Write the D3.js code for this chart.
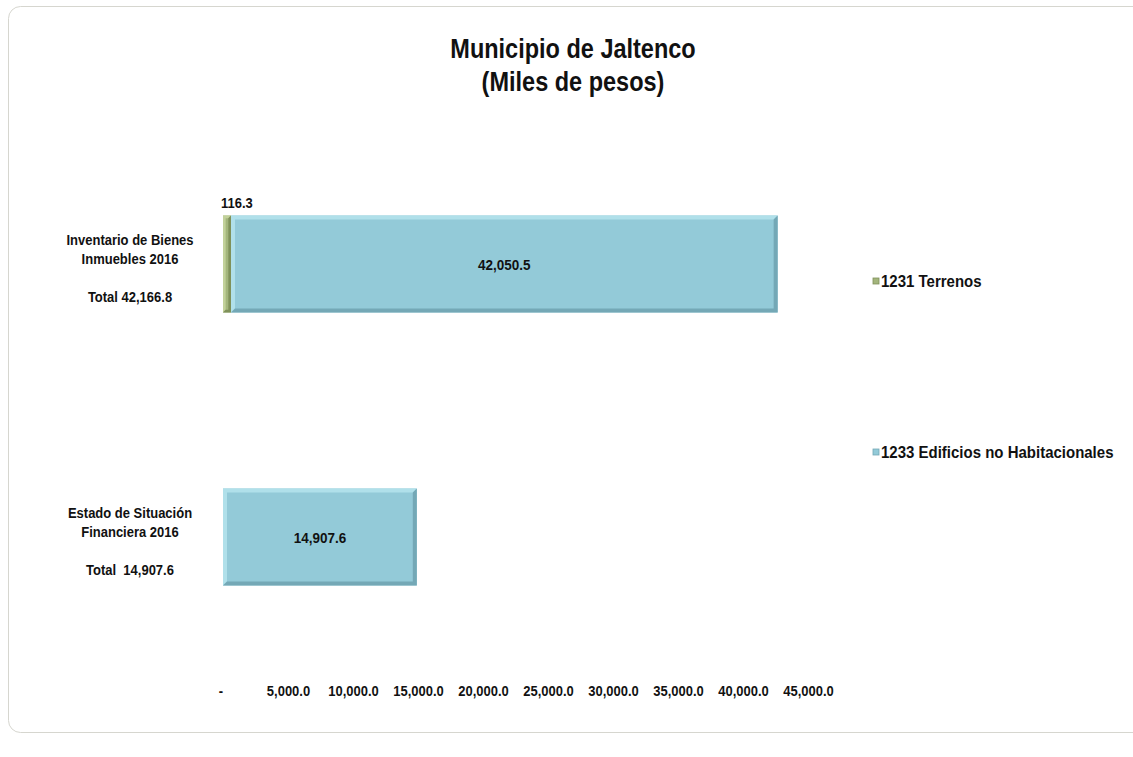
<!DOCTYPE html>
<html>
<head>
<meta charset="utf-8">
<script src="https://cdn.jsdelivr.net/npm/d3@7"></script>
<style>
  body { margin: 0; background: #ffffff; }
  svg { display: block; font-family: "Liberation Sans", Arial, sans-serif; font-weight: bold; }
</style>
</head>
<body>
<svg id="chart"></svg>
<script>
// DATA
const categories = ['Inventario', 'Estado'];
const categoryLines = [
    ['Inventario de Bienes', 'Inmuebles 2016', '', 'Total 42,166.8'],
    ['Estado de Situación', 'Financiera 2016', '', 'Total  14,907.6']
];
const seriesNames = ['1231 Terrenos', '1233 Edificios no Habitacionales'];
const terrenos = [116.3, 0];
const edificios = [42050.5, 14907.6];
const xTicks = [0, 5000, 10000, 15000, 20000, 25000, 30000, 35000, 40000, 45000];

const width = 1133;
const height = 757;
const colors = {
    '1231 Terrenos': { fill: '#a3b57c', light: '#c2d19a', dark: '#7f915a' },
    '1233 Edificios no Habitacionales': { fill: '#93cad8', light: '#b0e0ea', dark: '#74a8b6' }
};
const barH = 97;
const minSeg = 8; // tiny segments still get drawn like excel does
const stretch = 1.15; // text in the source looks a bit tall

const svg = d3.select('#chart')
    .attr('width', width)
    .attr('height', height);

function tallText(sel, x, y, size) {
    return sel.append('text')
        .attr('transform', `translate(${x},${y}) scale(1,${stretch})`)
        .attr('font-size', size)
        .attr('fill', '#111');
}

// frame
svg.append('rect')
    .attr('x', 8.5).attr('y', 6.5)
    .attr('width', 1150).attr('height', 726)
    .attr('rx', 12)
    .attr('fill', '#ffffff')
    .attr('stroke', '#d6d6cf');

// title
tallText(svg, 573, 58, 23.5).attr('text-anchor', 'middle').text('Municipio de Jaltenco');
tallText(svg, 573, 91, 23.5).attr('text-anchor', 'middle').text('(Miles de pesos)');

// scales
const x = d3.scaleLinear().domain([0, 45000]).range([223, 808]);
const y = d3.scalePoint().domain(categories).range([264, 537]);

const table = categories.map((c, i) => ({
    cat: c,
    '1231 Terrenos': terrenos[i],
    '1233 Edificios no Habitacionales': edificios[i]
}));
const stacked = d3.stack().keys(seriesNames)(table);

// compute pixel segments per category
let segs = [];
categories.forEach(function(cat, ci) {
    let px = x(0);
    stacked.forEach(function(layer) {
        const v = layer[ci][1] - layer[ci][0];
        if (v <= 0) return;
        let w = x(v) - x(0);
        if (w < minSeg) w = minSeg;
        segs.push({ cat: cat, key: layer.key, value: v, x: px, w: w, y: y(cat) - barH / 2, small: (x(v) - x(0)) < minSeg });
        px += w;
    });
});

const b = 4; // bevel size
const g = svg.append('g');
const fmt = d3.format(',.1f');
segs.forEach(function(s) {
    const c = colors[s.key];
    const x0 = s.x, x1 = s.x + s.w, y0 = s.y, y1 = s.y + barH;
    const bb = Math.min(b, s.w / 3);
    g.append('rect')
        .attr('x', x0).attr('y', y0)
        .attr('width', s.w).attr('height', barH)
        .attr('fill', c.fill);
    // light top/left
    g.append('path')
        .attr('d', `M${x0},${y1} L${x0},${y0} L${x1},${y0} L${x1 - bb},${y0 + bb} L${x0 + bb},${y0 + bb} L${x0 + bb},${y1 - bb} Z`)
        .attr('fill', c.light);
    // dark bottom/right
    g.append('path')
        .attr('d', `M${x0},${y1} L${x1},${y1} L${x1},${y0} L${x1 - bb},${y0 + bb} L${x1 - bb},${y1 - bb} L${x0 + bb},${y1 - bb} Z`)
        .attr('fill', c.dark);

    if (s.small) {
        tallText(g, x0 - 2, y0 - 8, 13).text(fmt(s.value));
    } else {
        tallText(g, x0 + s.w / 2, y(s.cat) + 6, 13.5)
            .attr('text-anchor', 'middle')
            .text(fmt(s.value));
    }
});

// category labels
categories.forEach(function(cat, i) {
    const lines = categoryLines[i];
    const top = y(cat) - 19;
    lines.forEach(function(l, li) {
        if (!l) return;
        tallText(svg, 130, top + li * 19, 13)
            .attr('text-anchor', 'middle')
            .attr('xml:space', 'preserve')
            .text(l);
    });
});

// x axis
const axis = d3.axisBottom(x)
    .tickValues(xTicks)
    .tickSize(0)
    .tickPadding(0)
    .tickFormat(d => d === 0 ? '-' : fmt(d));
const ax = svg.append('g')
    .attr('transform', 'translate(0,685)')
    .call(axis);
ax.select('.domain').remove();
ax.selectAll('text')
    .attr('y', 0).attr('dy', '0.71em')
    .attr('transform', `scale(1,${stretch})`)
    .attr('font-family', '"Liberation Sans", Arial, sans-serif')
    .attr('font-weight', 'bold')
    .attr('font-size', 13)
    .attr('fill', '#111');
ax.selectAll('.tick').filter(d => d === 0)
    .attr('transform', 'translate(221,0)');

// legend
const legendY = [287, 458];
seriesNames.forEach(function(name, i) {
    const c = colors[name];
    svg.append('rect')
        .attr('x', 873).attr('y', legendY[i] - 9)
        .attr('width', 6).attr('height', 6)
        .attr('fill', c.fill)
        .attr('stroke', c.dark)
        .attr('stroke-width', 0.8);
    tallText(svg, 881, legendY[i], 15).text(name);
});
</script>
</body>
</html>
